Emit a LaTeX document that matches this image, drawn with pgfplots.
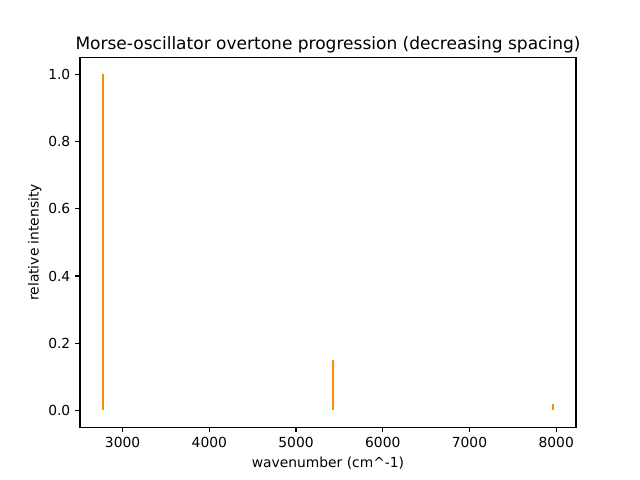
\documentclass[border=0pt]{standalone}
\usepackage{fontspec}
\setmainfont{DejaVu Sans}
\usepackage{pgfplots}
\pgfplotsset{compat=1.18}
\definecolor{darkorange}{HTML}{FF8C00}
\begin{document}
\begin{tikzpicture}
  \path[use as bounding box] (0,0) rectangle (6.4in,4.8in);
  \begin{axis}[
    at={(0.8in,0.528in)}, anchor=south west,
    width=4.96in, height=3.696in, scale only axis,
    xmin=2509, xmax=8228,
    ymin=-0.05, ymax=1.05,
    xtick={3000,4000,5000,6000,7000,8000},
    ytick={0,0.2,0.4,0.6,0.8,1.0},
    tick align=outside, major tick length=3.5pt,
    tick style={black, line width=0.8pt},
    axis line style={line width=0.8pt},
    xtick pos=bottom, ytick pos=left,
    /pgf/number format/assume math mode=true,
    x tick label style={/pgf/number format/.cd, 1000 sep={}},
    y tick label style={/pgf/number format/.cd, fixed, fixed zerofill, precision=1},
    tick label style={font=\fontsize{10}{12}\selectfont},
    label style={font=\fontsize{10}{12}\selectfont},
    xlabel={wavenumber (cm\textasciicircum-1)},
    ylabel={relative intensity},
    ylabel style={yshift=-2pt},
    title={Morse-oscillator overtone progression (decreasing spacing)},
    title style={font=\fontsize{12.3}{14}\selectfont, yshift=-6pt},
    ]
    \addplot[ycomb, darkorange, line width=1.5pt, mark=none] coordinates {
      (2769,1.0)
      (5423,0.15)
      (7968,0.018)
    };
  \end{axis}
\end{tikzpicture}
\end{document}
